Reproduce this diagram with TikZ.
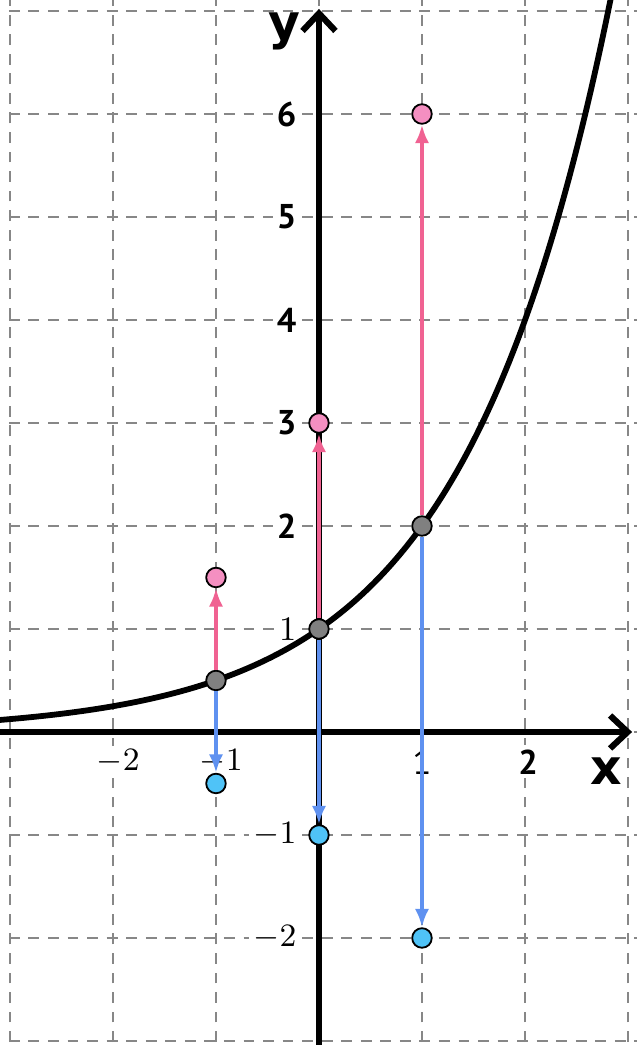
\documentclass[tikz,border=0pt]{standalone}
\usepackage{fontspec}
\newfontfamily\lblsans{PT Sans}
\newfontfamily\axsans{DejaVu Sans}
\usetikzlibrary{arrows.meta}
\definecolor{gridc}{RGB}{135,135,135}
\definecolor{pinkline}{RGB}{240,98,146}
\definecolor{pinkdot}{RGB}{244,143,193}
\definecolor{blueline}{RGB}{95,145,240}
\definecolor{bluedot}{RGB}{79,195,247}
\definecolor{graydot}{RGB}{128,128,128}
\begin{document}
\begin{tikzpicture}[x=1cm,y=1cm,
  gridline/.style={gridc, line width=0.55pt, dash pattern=on 3pt off 2.4pt},
  axisline/.style={line width=1.7pt, -{Straight Barb[length=1.7mm,width=3.2mm]}},
  curveline/.style={line width=1.6pt},
  dotbase/.style={circle, draw=black, line width=0.5pt, inner sep=0pt, minimum size=0.19cm},
  gdot/.style={dotbase, fill=graydot},
  pdot/.style={dotbase, fill=pinkdot},
  bdot/.style={dotbase, fill=bluedot},
  parrow/.style={pinkline, line width=1.25pt, -{Latex[length=1.8mm,width=1.4mm]}},
  barrow/.style={blueline, line width=1.25pt, -{Latex[length=1.8mm,width=1.4mm]}},
  tickbase/.style={fill=white, inner sep=1.2pt},
  tickserif/.style={tickbase, font=\fontsize{9.5}{11}\selectfont},
  ticksans/.style={tickbase, font=\lblsans\bfseries\fontsize{9.5}{11}\selectfont},
  axlabel/.style={font=\axsans\bfseries\fontsize{13.5}{15}\selectfont}
]
\useasboundingbox (-3.097,-3.039) rectangle (3.087,7.107);
% grid
\foreach \i in {-3,...,3} {\draw[gridline] (\i,-3.2) -- (\i,7.2);}
\foreach \j in {-3,...,7} {\draw[gridline] (-3.2,\j) -- (3.2,\j);}
% tick labels
\node[tickserif] (tm2) at (-1.95,-0.29) {$-2$};
\node[tickserif] (tm1) at (-0.95,-0.29) {$-1$};
\node[tickbase, font=\lblsans\fontsize{9.5}{11}\selectfont] (tp1) at (1.0,-0.29) {1};
\node[ticksans] (tp2) at (2.03,-0.29) {2};
\node[tickserif, anchor=east] (ty1) at (-0.17,1) {1};
\node[ticksans, anchor=east] (ty2) at (-0.17,2) {2};
\node[ticksans, anchor=east] (ty3) at (-0.17,3) {3};
\node[ticksans, anchor=east] (ty4) at (-0.17,4) {4};
\node[ticksans, anchor=east] (ty5) at (-0.17,5) {5};
\node[ticksans, anchor=east] (ty6) at (-0.17,6) {6};
\node[tickserif, anchor=east] (tym1) at (-0.17,-1) {$-1$};
\node[tickserif, anchor=east] (tym2) at (-0.17,-2) {$-2$};
% axes
\coordinate (xs) at (-3.1,0);
\coordinate (xe) at (3.04,0);
\coordinate (ys) at (0,-3.1);
\coordinate (ye) at (0,7.02);
\draw[axisline] (xs) -- (xe);
\draw[axisline] (ys) -- (ye);
\node[axlabel] (xl) at (2.79,-0.38) {x};
\node[axlabel] (yl) at (-0.34,6.8) {y};
% curve y = 2^x
\draw[curveline] plot[domain=-3.1:2.84, samples=120, smooth] (\x,{2^(\x)});
% dots
\node[gdot] (g1) at (-1,0.5) {};
\node[gdot] (g2) at (0,1) {};
\node[gdot] (g3) at (1,2) {};
\node[pdot] (p1) at (-1,1.5) {};
\node[pdot] (p2) at (0,3) {};
\node[pdot] (p3) at (1,6) {};
\node[bdot] (b1) at (-1,-0.5) {};
\node[bdot] (b2) at (0,-1) {};
\node[bdot] (b3) at (1,-2) {};
% arrows
\draw[parrow] (g1) -- (p1);
\draw[parrow] (g2) -- (p2);
\draw[parrow] (g3) -- (p3);
\draw[barrow] (g1) -- (b1);
\draw[barrow] (g2) -- (b2);
\draw[barrow] (g3) -- (b3);
\end{tikzpicture}
\end{document}
